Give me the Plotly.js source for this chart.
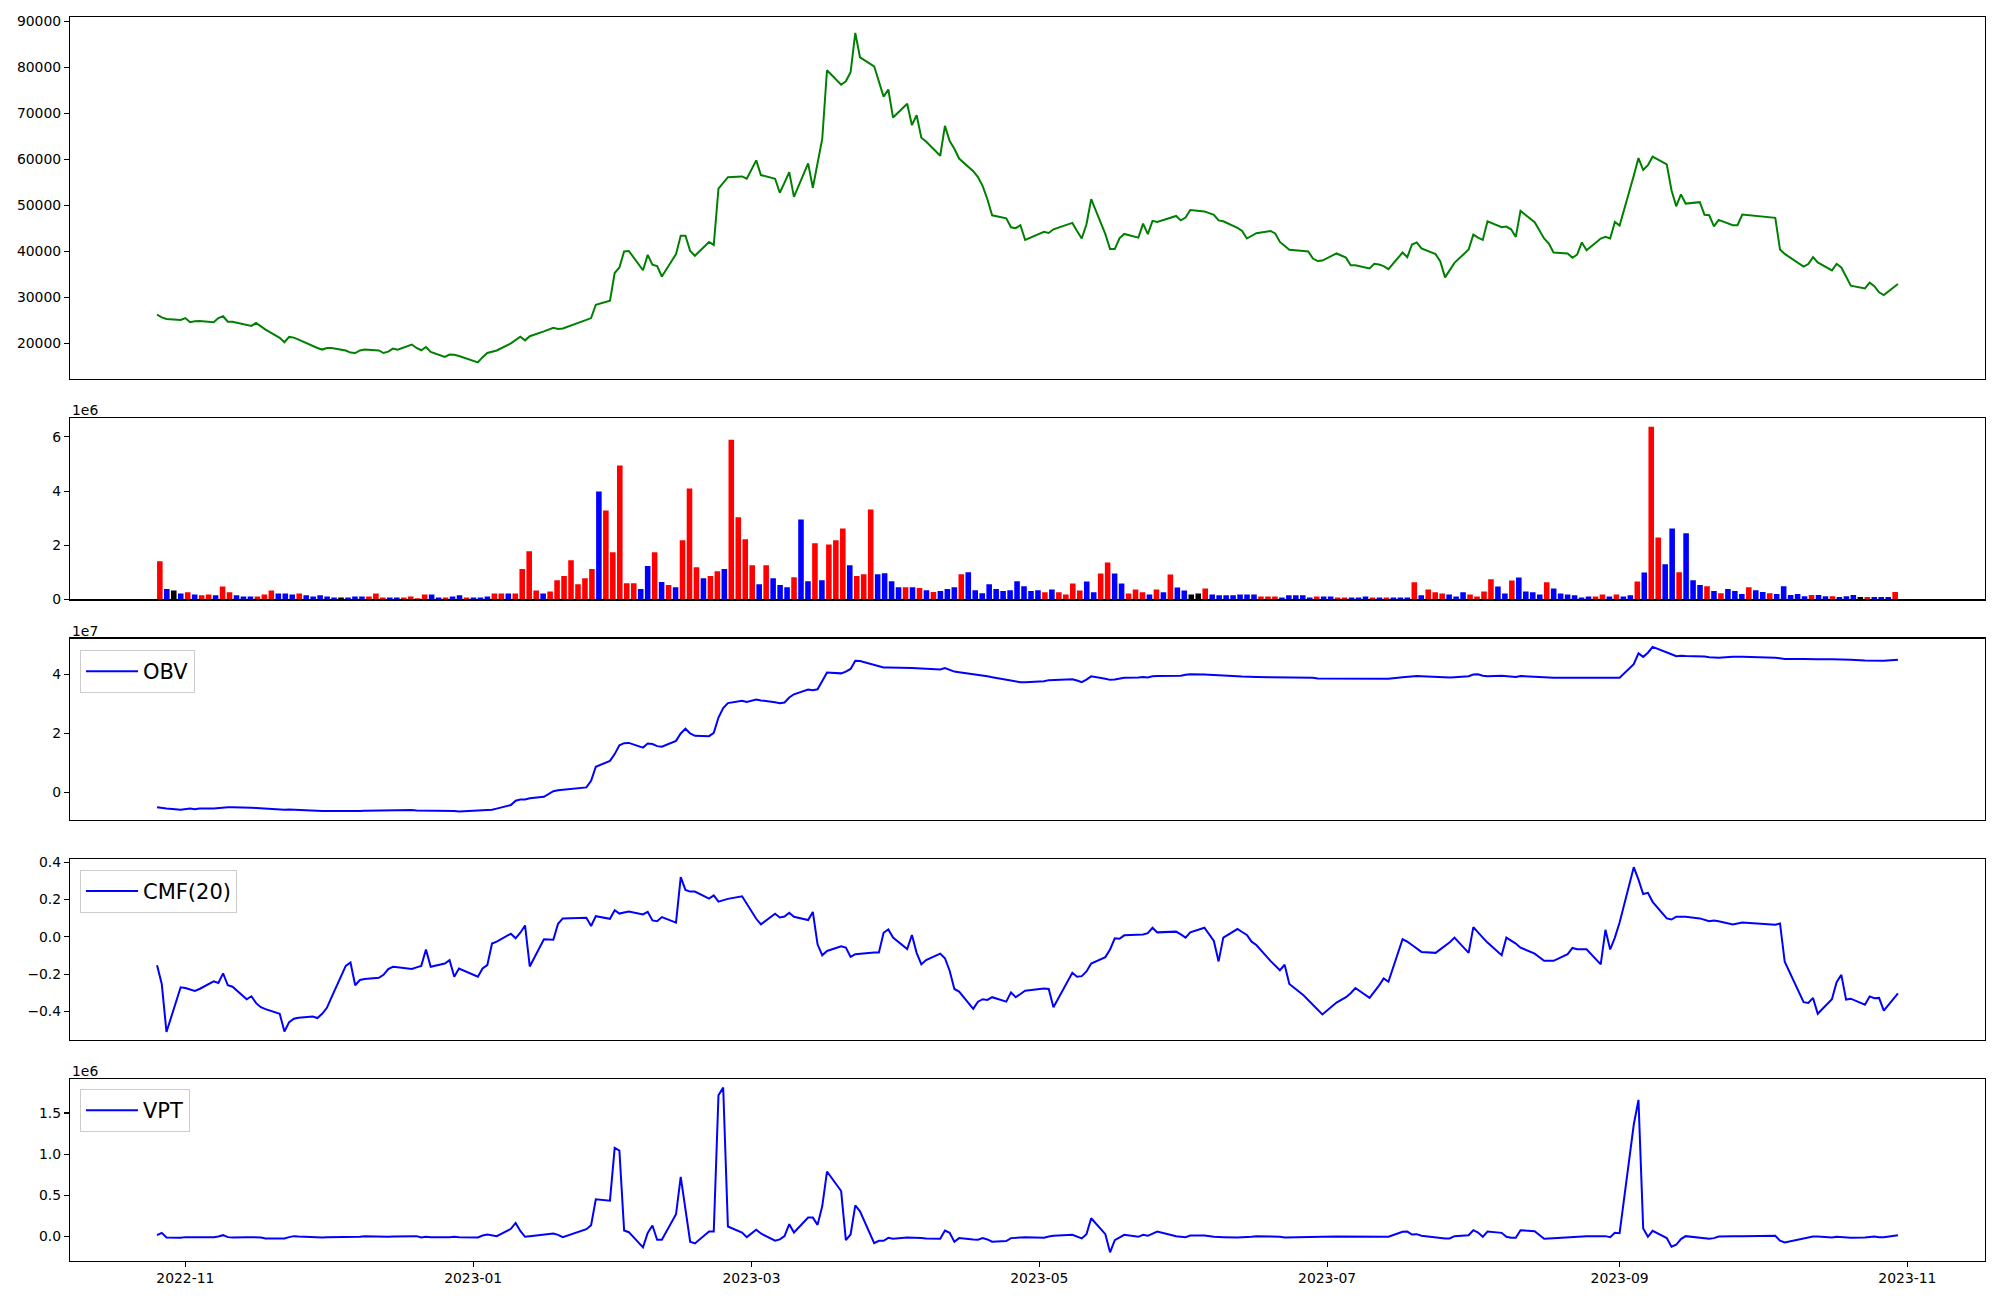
<!DOCTYPE html>
<html><head><meta charset="utf-8">
<script src="https://cdn.plot.ly/plotly-3.0.1.min.js"></script>
<style>html,body{margin:0;padding:0;background:#fff}#chart{width:2000px;height:1300px}</style>
</head><body><div id="chart"></div>
<script>
const dates = [
"2022-10-26","2022-10-27","2022-10-28","2022-10-31",
"2022-11-01","2022-11-02","2022-11-03","2022-11-04","2022-11-07","2022-11-08","2022-11-09","2022-11-10","2022-11-11","2022-11-14","2022-11-15","2022-11-16","2022-11-17","2022-11-18","2022-11-21","2022-11-22","2022-11-23","2022-11-24","2022-11-25","2022-11-28","2022-11-29","2022-11-30",
"2022-12-01","2022-12-02","2022-12-05","2022-12-06","2022-12-07","2022-12-08","2022-12-09","2022-12-12","2022-12-13","2022-12-14","2022-12-15","2022-12-16","2022-12-19","2022-12-20","2022-12-21","2022-12-22","2022-12-23","2022-12-26","2022-12-27","2022-12-28","2022-12-29",
"2023-01-02","2023-01-03","2023-01-04","2023-01-05","2023-01-06","2023-01-09","2023-01-10","2023-01-11","2023-01-12","2023-01-13","2023-01-16","2023-01-17","2023-01-18","2023-01-19","2023-01-20","2023-01-25","2023-01-26","2023-01-27","2023-01-30","2023-01-31",
"2023-02-01","2023-02-02","2023-02-03","2023-02-06","2023-02-07","2023-02-08","2023-02-09","2023-02-10","2023-02-13","2023-02-14","2023-02-15","2023-02-16","2023-02-17","2023-02-20","2023-02-21","2023-02-22","2023-02-23","2023-02-24","2023-02-27","2023-02-28",
"2023-03-02","2023-03-03","2023-03-06","2023-03-07","2023-03-08","2023-03-09","2023-03-10","2023-03-13","2023-03-14","2023-03-15","2023-03-16","2023-03-17","2023-03-20","2023-03-21","2023-03-22","2023-03-23","2023-03-24","2023-03-27","2023-03-28","2023-03-29","2023-03-30","2023-03-31",
"2023-04-03","2023-04-04","2023-04-05","2023-04-06","2023-04-07","2023-04-10","2023-04-11","2023-04-12","2023-04-13","2023-04-14","2023-04-17","2023-04-18","2023-04-19","2023-04-20","2023-04-21","2023-04-24","2023-04-25","2023-04-26","2023-04-27","2023-04-28",
"2023-05-02","2023-05-03","2023-05-04","2023-05-08","2023-05-09","2023-05-10","2023-05-11","2023-05-12","2023-05-15","2023-05-16","2023-05-17","2023-05-18","2023-05-19","2023-05-22","2023-05-23","2023-05-24","2023-05-25","2023-05-26","2023-05-30","2023-05-31",
"2023-06-01","2023-06-02","2023-06-05","2023-06-07","2023-06-08","2023-06-09","2023-06-12","2023-06-13","2023-06-14","2023-06-15","2023-06-16","2023-06-19","2023-06-20","2023-06-21","2023-06-22","2023-06-23","2023-06-26","2023-06-27","2023-06-28","2023-06-29","2023-06-30",
"2023-07-03","2023-07-04","2023-07-05","2023-07-06","2023-07-07","2023-07-10","2023-07-11","2023-07-12","2023-07-13","2023-07-14","2023-07-17","2023-07-18","2023-07-19","2023-07-20","2023-07-21","2023-07-24","2023-07-25","2023-07-26","2023-07-27","2023-07-28","2023-07-31",
"2023-08-01","2023-08-02","2023-08-03","2023-08-04","2023-08-07","2023-08-08","2023-08-09","2023-08-10","2023-08-11","2023-08-14","2023-08-16","2023-08-17","2023-08-18","2023-08-21","2023-08-22","2023-08-23","2023-08-24","2023-08-25","2023-08-28","2023-08-29","2023-08-30","2023-08-31",
"2023-09-01","2023-09-04","2023-09-05","2023-09-06","2023-09-07","2023-09-08","2023-09-11","2023-09-12","2023-09-13","2023-09-14","2023-09-15","2023-09-18","2023-09-19","2023-09-20","2023-09-21","2023-09-22","2023-09-25","2023-09-26","2023-09-27",
"2023-10-04","2023-10-05","2023-10-06","2023-10-10","2023-10-11","2023-10-12","2023-10-13","2023-10-16","2023-10-17","2023-10-18","2023-10-19","2023-10-20","2023-10-23","2023-10-24","2023-10-25","2023-10-26","2023-10-27","2023-10-30"
];

const close = [
26250,25650,25300,25100,
25500,24600,24800,24850,24600,25500,25900,24700,24700,23900,23800,24450,23650,23000,21200,20250,21400,21250,20800,19350,19000,18650,
19000,19000,18450,18000,17900,18450,18650,18450,17900,18200,18850,18600,19750,19000,18500,19200,18150,17050,17550,17500,17250,
15850,17000,17900,18200,18450,20000,20750,21450,20650,21550,22600,23000,23400,23150,23250,25100,25500,28400,29300,35300,
36500,40000,40100,35900,39250,37100,36800,34550,39400,43400,43400,40100,39050,42050,41400,53650,54950,56150,56300,55800,
59800,56600,55800,52750,54950,57250,51850,59150,53850,59300,64500,79400,76250,77000,78950,87500,82200,80250,77000,73650,75200,69100,
72100,67450,69600,64700,63900,60800,67300,64000,62300,60200,57450,56150,54200,51350,47850,47200,45250,45050,45700,42500,
44250,44000,44800,46200,44450,42800,45900,51350,43750,40500,40500,42850,43800,43000,46050,43750,46650,46400,47700,46750,
47350,49000,48700,47950,46750,46550,45100,44450,42800,43350,43950,44450,43900,42050,41200,40350,40100,40000,38450,37900,38000,
39550,39100,38650,37000,37000,36300,37300,37150,36800,36150,39750,38750,41500,41950,40650,39400,37800,34350,35950,37500,40400,
43650,43000,42500,46550,45250,45400,44800,43150,48800,46350,42800,41700,39750,39550,38600,39300,41950,40250,42800,43150,42800,46400,
45600,56450,60300,57700,58750,60600,58900,53300,49800,52400,50400,50700,47950,47850,45450,46850,45700,45700,48000,
47300,40400,39450,36700,37250,38750,37600,35850,37300,36500,34550,32550,31950,33200,32450,31100,30500,32900
];

// volume in units of 1e6 (matplotlib offset "1e6")
const volume_1e6 = [
1.41,0.38,0.33,0.22,0.26,0.18,0.15,0.18,0.15,0.48,
0.26,0.15,0.11,0.11,0.11,0.18,0.33,0.22,0.22,0.18,
0.22,0.15,0.11,0.15,0.11,0.07,0.07,0.07,0.11,0.11,
0.11,0.22,0.07,0.07,0.07,0.07,0.11,0.04,0.18,0.18,
0.07,0.07,0.11,0.15,0.07,0.07,0.07,0.11,0.22,0.22,
0.22,0.22,1.12,1.78,0.33,0.22,0.29,0.71,0.86,1.45,
0.56,0.78,1.12,3.98,
3.28,1.74,4.94,0.60,0.60,0.38,1.23,1.74,0.64,0.53,
0.45,2.18,4.09,1.19,0.78,0.86,1.04,1.12,5.89,3.03,
2.22,1.26,0.56,1.26,0.78,0.53,0.45,0.82,2.95,0.67,
2.07,0.71,2.03,2.18,2.62,1.26,0.86,0.93,3.32,0.93,
0.97,0.67,0.45,0.45,0.45,0.42,0.34,0.27,0.31,0.38,
0.45,0.93,1.00,0.34,0.23,0.56,0.38,0.31,0.34,0.67,
0.49,0.31,0.34,
0.26,0.37,0.26,0.18,0.59,0.33,0.66,0.26,0.96,1.36,
0.96,0.59,0.22,0.37,0.26,0.18,0.37,0.26,0.92,0.44,
0.33,0.18,0.22,0.40,0.18,0.15,0.15,0.15,0.18,0.18,
0.18,0.11,0.11,0.11,0.07,0.15,0.15,0.15,0.07,0.11,
0.11,0.11,0.07,0.07,0.07,0.07,0.11,0.07,0.07,0.07,
0.07,0.07,0.07,0.63,0.15,0.37,0.26,0.22,0.18,0.11,
0.26,0.18,0.11,
0.29,0.74,0.48,0.22,0.70,0.81,0.29,0.26,0.18,0.63,
0.40,0.22,0.18,0.15,0.07,0.11,0.11,0.18,0.11,0.18,
0.11,0.15,0.66,0.99,6.37,2.29,1.30,2.62,1.00,2.44,
0.71,0.53,0.49,0.31,0.23,0.38,0.31,0.20,0.45,0.34,
0.27,0.23,0.20,0.49,0.16,0.20,0.12,0.16,0.16,0.12,
0.12,0.09,0.12,0.16,0.09,0.09,0.09,0.09,0.09,0.27
];

// bar colour code per day: R = up (red), B = down (blue), K = unchanged (black)
const volume_dir = [
"RBKBRBRRBR","RBBBRRRBBB","RBBBBBKBBB","RRRBBRRRRB","BRBBRBBBRR","BRRRRBRRRR","RRRB",
"RRRRRBBRBR","BRRRBRRBRR","RRBRBBBRBB","RBRRRBRRRB","BBBRBRBRBB","BRBBBBBBBB","BBB",
"RBRRRRBBRR","BBRRRBRBRB","BKKRBBBBBB","BRRRBBBBBR","BBRRBBBRBR","BBBRBRRRBB","BRR",
"RRBBRBBBBR","BBBBBBRRBR","BBRBRRBBRB","BBRBRBBBRB","BRBBBBBRBB","RBBBKRBBBR"
].join("");

// OBV in units of 1e7
const obv_1e7 = [
-0.51,-0.54,-0.56,-0.60,
-0.59,-0.56,-0.58,-0.56,-0.56,-0.54,-0.51,-0.51,-0.51,-0.51,-0.53,-0.54,-0.55,-0.56,-0.60,-0.60,-0.59,-0.60,-0.61,-0.63,-0.63,-0.64,
-0.64,-0.64,-0.66,-0.66,-0.66,-0.64,-0.63,-0.62,-0.62,-0.63,-0.62,-0.62,-0.61,-0.62,-0.62,-0.63,-0.64,-0.64,-0.64,-0.64,-0.66,
-0.64,-0.63,-0.62,-0.60,-0.56,-0.44,-0.29,-0.25,-0.25,-0.21,-0.16,-0.05,0.03,0.06,0.08,0.16,0.38,0.86,1.06,1.29,
1.59,1.66,1.67,1.51,1.65,1.63,1.56,1.54,1.74,1.99,2.15,1.99,1.91,1.90,2.01,2.53,2.85,3.02,3.10,3.06,
3.14,3.11,3.05,3.02,3.04,3.21,3.32,3.48,3.46,3.49,3.77,4.06,4.03,4.09,4.18,4.46,4.45,4.31,4.26,4.23,4.23,4.23,
4.21,4.21,4.20,4.19,4.18,4.16,4.21,4.14,4.09,4.07,4.01,3.99,3.97,3.93,3.90,3.81,3.77,3.74,3.73,3.73,
3.76,3.80,3.81,3.83,3.79,3.73,3.82,3.93,3.85,3.81,3.82,3.85,3.88,3.89,3.91,3.89,3.93,3.94,3.94,3.95,
3.98,4.00,3.99,3.98,3.97,3.95,3.93,3.92,3.91,3.91,3.91,3.90,3.90,3.89,3.89,3.89,3.88,3.88,3.88,3.86,3.86,
3.86,3.86,3.86,3.85,3.85,3.85,3.85,3.85,3.85,3.85,3.90,3.92,3.93,3.94,3.93,3.90,3.89,3.88,3.89,3.90,3.93,
3.99,4.00,3.95,3.93,3.95,3.93,3.92,3.91,3.94,3.93,3.90,3.89,3.88,3.88,3.88,3.88,3.88,3.88,3.89,3.89,3.89,3.90,
3.88,4.34,4.71,4.59,4.73,4.93,4.76,4.68,4.61,4.63,4.62,4.62,4.60,4.58,4.56,4.56,4.59,4.59,4.59,
4.56,4.53,4.52,4.52,4.51,4.51,4.51,4.51,4.50,4.50,4.50,4.49,4.47,4.47,4.46,4.46,4.46,4.49
];

const cmf20 = [
-0.152,-0.253,-0.511,-0.271,
-0.275,-0.282,-0.291,-0.280,-0.239,-0.248,-0.196,-0.260,-0.268,-0.335,-0.319,-0.356,-0.378,-0.388,-0.413,-0.508,-0.458,-0.440,-0.435,-0.428,-0.436,-0.413,
-0.381,-0.324,-0.156,-0.138,-0.260,-0.232,-0.227,-0.220,-0.204,-0.173,-0.161,-0.163,-0.173,-0.164,-0.156,-0.068,-0.161,-0.143,-0.125,-0.214,-0.170,
-0.214,-0.170,-0.152,-0.036,-0.026,0.017,-0.008,0.022,0.061,-0.159,-0.013,-0.015,-0.015,0.070,0.099,0.102,0.058,0.111,0.097,0.143,
0.125,0.131,0.136,0.120,0.134,0.088,0.084,0.106,0.076,0.321,0.252,0.243,0.243,0.205,0.223,0.189,0.198,0.204,0.218,0.180,
0.097,0.067,0.124,0.104,0.109,0.129,0.108,0.090,0.134,-0.040,-0.099,-0.076,-0.051,-0.058,-0.108,-0.093,-0.090,-0.084,-0.084,0.022,0.040,-0.004,
-0.065,0.010,-0.086,-0.148,-0.125,-0.090,-0.115,-0.182,-0.280,-0.294,-0.387,-0.348,-0.335,-0.339,-0.324,-0.348,-0.298,-0.324,-0.307,-0.289,
-0.278,-0.280,-0.378,-0.193,-0.214,-0.211,-0.186,-0.143,-0.109,-0.068,-0.008,-0.010,0.008,0.012,0.013,0.020,0.049,0.024,0.028,0.013,
-0.004,0.024,0.049,-0.022,-0.132,-0.004,0.042,0.026,0.010,-0.026,-0.044,-0.129,-0.156,-0.179,-0.150,-0.253,-0.314,-0.339,-0.364,-0.394,-0.417,
-0.353,-0.339,-0.324,-0.303,-0.275,-0.328,-0.298,-0.262,-0.223,-0.241,-0.013,-0.026,-0.044,-0.063,-0.081,-0.086,-0.067,-0.049,-0.029,-0.004,-0.086,
0.052,0.022,-0.004,-0.031,-0.099,-0.004,-0.019,-0.036,-0.058,-0.090,-0.129,-0.129,-0.129,-0.093,-0.060,-0.067,-0.067,-0.067,-0.148,0.038,-0.068,-0.004,
0.077,0.374,0.307,0.230,0.236,0.188,0.099,0.093,0.108,0.108,0.108,0.099,0.092,0.084,0.088,0.084,0.067,0.074,0.077,
0.065,0.072,-0.134,-0.351,-0.355,-0.328,-0.413,-0.335,-0.244,-0.204,-0.337,-0.332,-0.364,-0.320,-0.330,-0.328,-0.396,-0.303
];

// VPT in units of 1e6
const vpt_1e6 = [
0.016,0.044,-0.012,-0.016,
-0.008,-0.008,-0.012,-0.012,-0.008,0.000,0.016,-0.008,-0.012,-0.008,-0.008,-0.004,-0.012,-0.024,-0.024,-0.024,-0.008,0.004,0.000,-0.012,-0.016,-0.012,
-0.008,-0.008,-0.008,-0.008,-0.008,-0.004,0.004,-0.004,-0.004,-0.004,0.000,0.000,0.004,0.004,-0.012,-0.004,-0.008,-0.012,-0.008,-0.004,-0.008,
-0.012,0.012,0.024,0.016,0.004,0.093,0.165,0.068,-0.004,0.004,0.028,0.036,0.036,0.020,-0.008,0.089,0.137,0.451,0.435,1.075,
1.043,0.072,0.052,-0.133,0.044,0.133,-0.040,-0.040,0.270,0.725,0.310,-0.064,-0.085,0.060,0.060,1.715,1.808,0.121,0.048,-0.008,
0.081,0.036,-0.052,-0.036,0.004,0.149,0.048,0.229,0.229,0.141,0.370,0.789,0.552,-0.044,0.024,0.378,0.306,-0.081,-0.052,-0.052,-0.016,-0.028,
-0.012,-0.012,-0.020,-0.020,-0.024,-0.028,0.072,0.044,-0.064,-0.020,-0.036,-0.040,-0.020,-0.036,-0.064,-0.056,-0.020,-0.012,-0.012,-0.008,
-0.016,0.000,0.008,0.020,0.000,-0.024,0.028,0.221,0.028,-0.193,-0.044,-0.012,0.020,-0.004,0.020,0.008,0.036,0.060,0.004,0.000,
-0.008,0.012,0.012,-0.004,-0.008,-0.008,-0.012,-0.012,-0.012,-0.004,0.004,0.004,0.004,-0.004,-0.012,-0.012,-0.008,-0.008,-0.012,-0.012,-0.004,
0.000,0.000,-0.004,-0.008,-0.008,-0.008,-0.008,-0.008,-0.008,-0.004,0.056,0.060,0.024,0.028,0.008,-0.012,-0.020,-0.024,-0.024,0.004,0.016,
0.076,0.048,-0.004,0.060,0.044,-0.004,-0.016,-0.016,0.076,0.064,-0.028,-0.024,-0.020,-0.012,-0.008,-0.004,0.004,0.004,0.004,0.004,-0.008,0.044,
0.040,1.357,1.659,0.097,-0.004,0.068,-0.020,-0.125,-0.101,-0.032,0.004,-0.012,-0.024,-0.028,-0.020,0.000,0.004,0.000,0.004,
0.008,-0.052,-0.072,-0.028,-0.012,0.000,0.000,-0.012,-0.004,-0.008,-0.016,-0.016,-0.012,-0.008,0.000,-0.008,-0.008,0.016
];

const priceTicks = [20000,30000,40000,50000,60000,70000,80000,90000];
const volumeTicks = [0,2,4,6];
const obvTicks = [0,2,4];
const cmfTicks = [-0.4,-0.2,0.0,0.2,0.4];
const vptTicks = [0.0,0.5,1.0,1.5];

const dirColor = {R:'#ff0000', B:'#0000ff', K:'#000000'};
const barColors = volume_dir.split('').map(c => dirColor[c]);

const FONT = 'DejaVu Sans, Verdana, sans-serif';
const dateRange = ['2022-10-07 13:12', '2023-11-17 10:48'];
const xDom = [0.035, 0.9925];

function yax(domain, range, tickvals, fmt) {
  return {domain, range, tickvals, tickformat: fmt, showgrid:false, zeroline:false,
    showline:true, mirror:true, linecolor:'#000', linewidth:1.1,
    ticks:'outside', ticklen:5, tickwidth:1.1, tickcolor:'#000',
    tickfont:{family:FONT, size:13.9, color:'#000'}, fixedrange:true};
}
function xax(anchor, showLabels) {
  return {domain:xDom, anchor, type:'date', range:dateRange, showgrid:false, zeroline:false,
    showline:true, mirror:true, linecolor:'#000', linewidth:1.1,
    ticks: showLabels ? 'outside' : '', ticklen:5, tickwidth:1.1, tickcolor:'#000',
    showticklabels: showLabels, tickformat:'%Y-%m', dtick:'M2', tick0:'2022-11-01',
    tickfont:{family:FONT, size:13.9, color:'#000'}, fixedrange:true};
}

const traces = [
  {type:'scatter', mode:'lines', x:dates, y:close, xaxis:'x', yaxis:'y',
   line:{color:'#008000', width:2}, showlegend:false, name:'Close'},
  {type:'bar', x:dates, y:volume_1e6, xaxis:'x2', yaxis:'y2',
   marker:{color:barColors, line:{width:0}}, showlegend:false, name:'Volume'},
  {type:'scatter', mode:'lines', x:dates, y:obv_1e7, xaxis:'x3', yaxis:'y3',
   line:{color:'#0000ff', width:2}, name:'OBV', legend:'legend'},
  {type:'scatter', mode:'lines', x:dates, y:cmf20, xaxis:'x4', yaxis:'y4',
   line:{color:'#0000ff', width:2}, name:'CMF(20)', legend:'legend2'},
  {type:'scatter', mode:'lines', x:dates, y:vpt_1e6, xaxis:'x5', yaxis:'y5',
   line:{color:'#0000ff', width:2}, name:'VPT', legend:'legend3'}
];

function leg(y) {
  return {x:0.04, y, xanchor:'left', yanchor:'top', bgcolor:'rgba(255,255,255,0.8)',
    bordercolor:'#cccccc', borderwidth:1, font:{family:FONT, size:21, color:'#000'},
    itemwidth:52, tracegroupgap:0};
}

const yd = {
  y1:[0.70846,0.98723], y2:[0.53892,0.67831], y3:[0.36938,0.50877],
  y4:[0.19985,0.33923], y5:[0.03031,0.16969]
};

const offFont = {family:FONT, size:13.9, color:'#000'};
const layout = {
  width:2000, height:1300, margin:{l:0,r:0,t:0,b:0},
  paper_bgcolor:'#fff', plot_bgcolor:'#fff', hovermode:false,
  font:{family:FONT, color:'#000'},
  bargap:0.2,
  xaxis: xax('y', false),
  xaxis2: {domain:xDom, anchor:'y2', type:'category', range:[-12.89, 261.89],
    showgrid:false, zeroline:false, showline:true, mirror:true, linecolor:'#000', linewidth:1.1,
    ticks:'', showticklabels:false, fixedrange:true},
  xaxis3: xax('y3', false),
  xaxis4: xax('y4', false),
  xaxis5: xax('y5', true),
  yaxis: yax(yd.y1, [12250, 91060], priceTicks, 'd'),
  yaxis2: yax(yd.y2, [0, 6.69], volumeTicks, 'd'),
  yaxis3: yax(yd.y3, [-0.94, 5.21], obvTicks, 'd'),
  yaxis4: yax(yd.y4, [-0.555, 0.418], cmfTicks, '.1f'),
  yaxis5: yax(yd.y5, [-0.293, 1.908], vptTicks, '.1f'),
  legend: leg(0.5),
  legend2: leg(0.3308),
  legend3: leg(0.1623),
  annotations: [
    {text:'1e6', xref:'paper', yref:'paper', x:0.035, y:yd.y2[1], xanchor:'left', yanchor:'bottom', yshift:-2, showarrow:false, font:offFont},
    {text:'1e7', xref:'paper', yref:'paper', x:0.035, y:yd.y3[1], xanchor:'left', yanchor:'bottom', yshift:-2, showarrow:false, font:offFont},
    {text:'1e6', xref:'paper', yref:'paper', x:0.035, y:yd.y5[1], xanchor:'left', yanchor:'bottom', yshift:-2, showarrow:false, font:offFont}
  ]
};

Plotly.newPlot('chart', traces, layout, {displayModeBar:false, staticPlot:true});
</script>
</body></html>
